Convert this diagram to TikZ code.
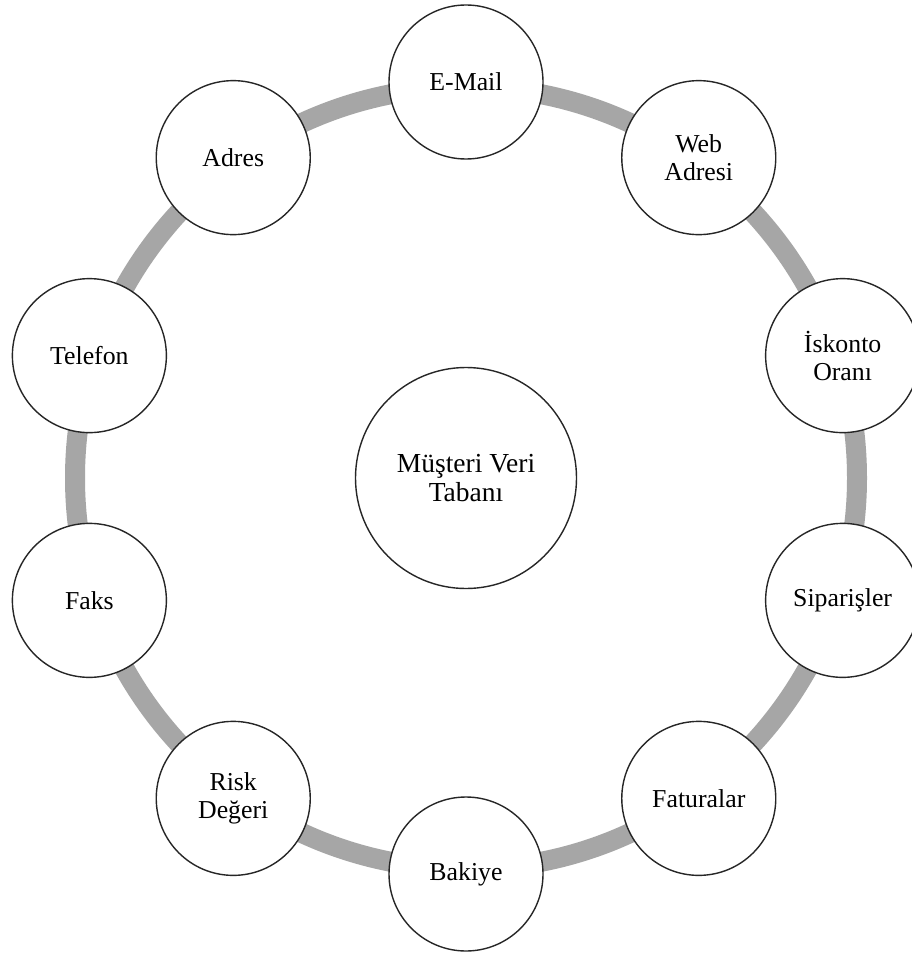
\documentclass[tikz,border=0pt]{standalone}
\usepackage{fontspec}
\setmainfont{Liberation Serif}
\usepackage{xcolor}
\definecolor{ringgray}{HTML}{A6A6A6}

\begin{document}
\begin{tikzpicture}[
  x=1pt, y=1pt,
  font=\fontsize{25.8}{28}\selectfont,
  ring/.style={draw=ringgray, line width=20pt},
  item/.style={circle, draw=black!85, line width=1.4pt, fill=white, align=center, minimum size=154pt, inner sep=0pt},
  hub/.style={circle, draw=black!85, line width=1.4pt, fill=white, align=center, minimum size=221pt, inner sep=0pt, font=\fontsize{27.5}{29}\selectfont}
]
\useasboundingbox (0,0) rectangle (912,-955);
\fill[white] (0,0) rectangle (912,-955);

\coordinate (c) at (466,-478);
\draw[ring] (c) circle (391pt);

\node[hub] (db) at (c) {Müşteri Veri\\Tabanı};

\node[item] (email) at ([shift={(90:396)}]c) {E-Mail};
\node[item] (web) at ([shift={(54:396)}]c) {Web\\Adresi};
\node[item] (iskonto) at ([shift={(18:396)}]c) {İskonto\\Oranı};
\node[item] (siparis) at ([shift={(-18:396)}]c) {Siparişler};
\node[item] (fatura) at ([shift={(-54:396)}]c) {Faturalar};
\node[item] (bakiye) at ([shift={(-90:396)}]c) {Bakiye};
\node[item] (risk) at ([shift={(-126:396)}]c) {Risk\\Değeri};
\node[item] (faks) at ([shift={(-162:396)}]c) {Faks};
\node[item] (telefon) at ([shift={(162:396)}]c) {Telefon};
\node[item] (adres) at ([shift={(126:396)}]c) {Adres};
\end{tikzpicture}
\end{document}
